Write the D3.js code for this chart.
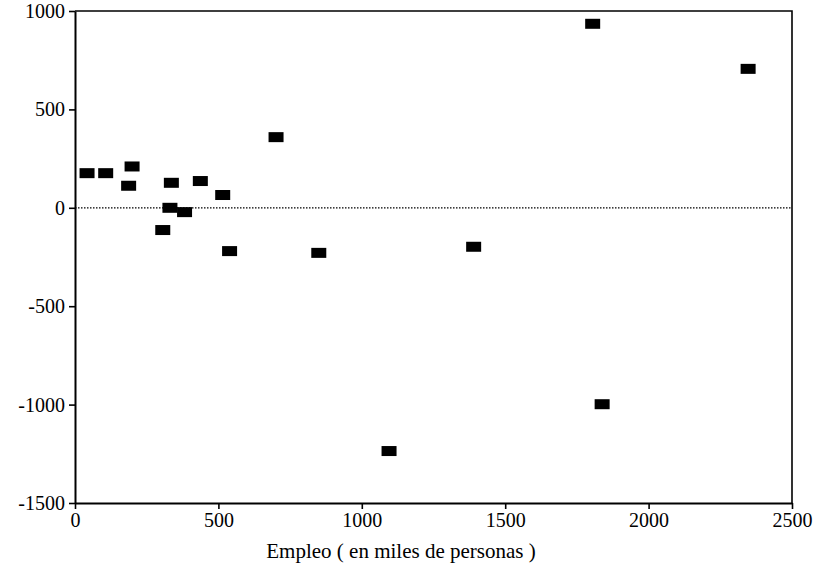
<!DOCTYPE html>
<html>
<head>
<meta charset="utf-8">
<script src="https://cdn.jsdelivr.net/npm/d3@7"></script>
<style>
  html, body { margin: 0; padding: 0; background: #fff; }
  svg { display: block; }
  svg text { font-family: 'Liberation Serif', 'Times New Roman', Times, 'DejaVu Serif', serif !important; fill: #000; }
</style>
</head>
<body>
<svg id="chart" width="820" height="564"></svg>
<script>
// Data
const empleo = [42, 107, 187, 199, 306, 331, 336, 382, 437, 515, 539, 701, 850, 1095, 1390, 1805, 1838, 2347];
const residuo = [176, 176, 112, 210, -113, 0, 127, -22, 136, 65, -220, 359, -229, -1236, -198, 935, -998, 706];
const xTicks = [0, 500, 1000, 1500, 2000, 2500];
const yTicks = [-1500, -1000, -500, 0, 500, 1000];
const xLabel = "Empleo ( en miles de personas )";

(function () {
const svg = d3.select("#chart");
const mLeft = 75, mRight = 792, mTop = 11, mBottom = 503;

const x = d3.scaleLinear().domain([0, 2500]).range([mLeft, mRight]);
const y = d3.scaleLinear().domain([-1500, 1000]).range([mBottom, mTop]);

// frame (top and right)
svg.append("path")
  .attr("d", `M${mLeft},${mTop}H${mRight}V${mBottom}`)
  .attr("fill", "none").attr("stroke", "#000").attr("stroke-width", 1.6);

// zero reference line (dotted)
svg.append("line")
  .attr("x1", mLeft).attr("x2", mRight)
  .attr("y1", y(0)).attr("y2", y(0))
  .attr("stroke", "#000").attr("stroke-width", 1.2)
  .attr("stroke-dasharray", "1.5,1.5");

const fmt = d => String(d);
// axes
const xAxis = svg.append("g").attr("transform", `translate(0,${mBottom})`)
  .call(d3.axisBottom(x).tickValues(xTicks).tickFormat(fmt).tickSize(6).tickSizeOuter(0));
const yAxis = svg.append("g").attr("transform", `translate(${mLeft},0)`)
  .call(d3.axisLeft(y).tickValues(yTicks).tickFormat(fmt).tickSize(6).tickSizeOuter(0));

[xAxis, yAxis].forEach(g => {
  g.attr("font-family", null).attr("font-size", null);
  g.select(".domain").attr("stroke", "#000").attr("stroke-width", 2);
  g.selectAll(".tick line").attr("stroke", "#000").attr("stroke-width", 1.6);
  g.selectAll(".tick text").style("font-size", "20px").attr("fill", "#000");
});
xAxis.selectAll(".tick text").attr("dy", "0.71em").attr("y", 10);
yAxis.selectAll(".tick text").attr("x", -10);

// x axis label
svg.append("text")
  .attr("x", 401).attr("y", 558)
  .attr("text-anchor", "middle")
  .style("font-size", "21px")
  .text(xLabel);

// points: black rectangles
const w = 15, h = 10;
svg.append("g").selectAll("rect")
  .data(empleo.map((e, i) => ({ e, r: residuo[i] })))
  .join("rect")
  .attr("x", d => x(d.e) - w / 2)
  .attr("y", d => y(d.r) - h / 2)
  .attr("width", w).attr("height", h)
  .attr("fill", "#000");
})();
</script>
</body>
</html>
